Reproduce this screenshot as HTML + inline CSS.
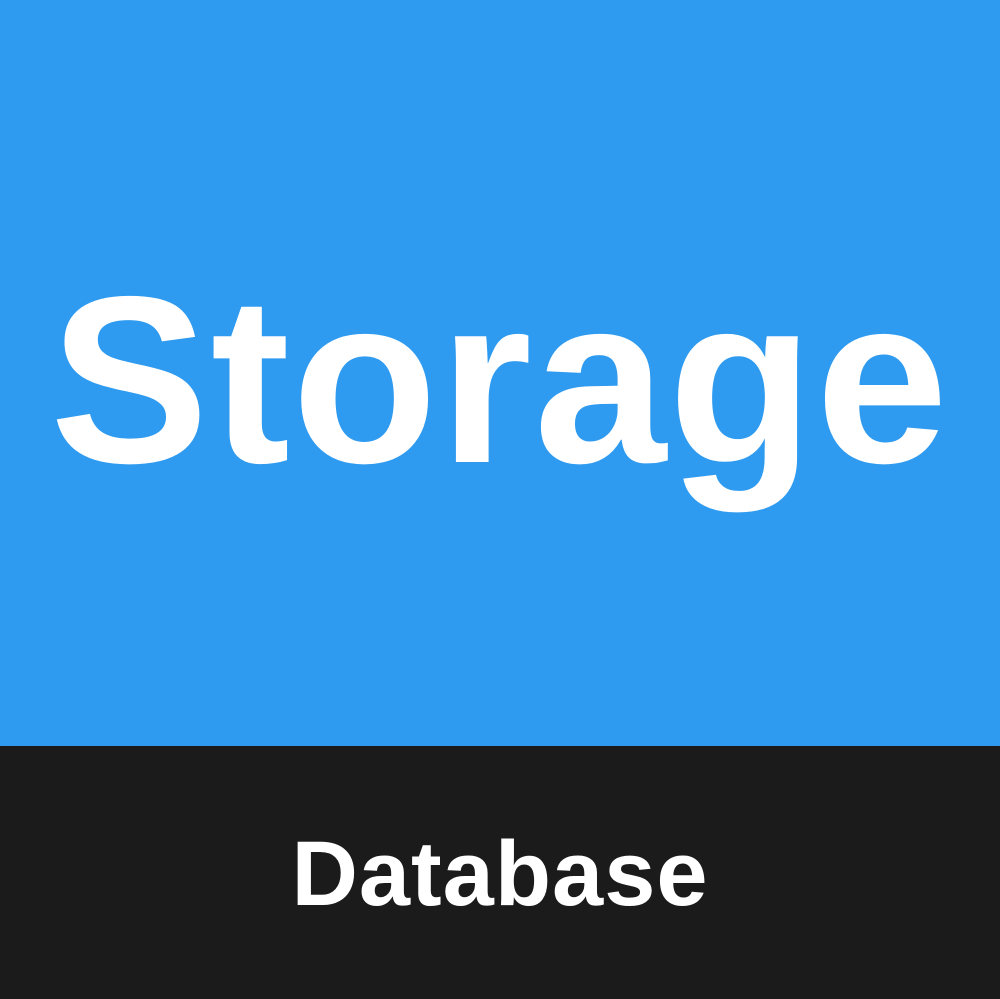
<!DOCTYPE html>
<html><head><style>
html,body{margin:0;padding:0;}
body{width:1000px;height:999px;position:relative;overflow:hidden;font-family:"Liberation Sans",sans-serif;font-weight:bold;color:#fff;}
.top{position:absolute;left:0;top:0;width:1000px;height:746px;background:#2f9bf0;}
.bot{position:absolute;left:0;top:746px;width:1000px;height:253px;background:#1b1b1b;}
.t1{position:absolute;left:0;width:1000px;text-align:center;font-size:238px;line-height:1;top:262px;letter-spacing:2px;}
.t2{position:absolute;left:0;width:1000px;text-align:center;font-size:92px;line-height:1;top:828px;letter-spacing:1px;}
</style></head><body>
<div class="top"></div><div class="bot"></div>
<div class="t1">Storage</div>
<div class="t2">Database</div>
</body></html>
